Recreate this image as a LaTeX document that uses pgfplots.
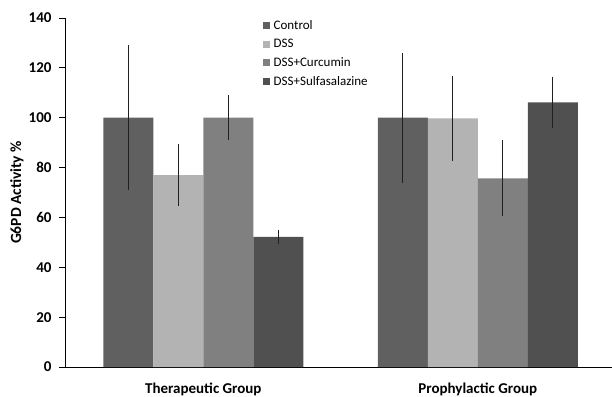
\documentclass[border=0pt]{standalone}
\usepackage{pgfplots}
\pgfplotsset{compat=1.18}
\usepackage{fontspec}
\setmainfont{Carlito}
\definecolor{cControl}{HTML}{606060}
\definecolor{cDSS}{HTML}{B3B3B3}
\definecolor{cCur}{HTML}{808080}
\definecolor{cSul}{HTML}{505050}
\definecolor{errc}{HTML}{202020}
\begin{document}
\begin{tikzpicture}
\useasboundingbox (-65pt,-29pt) rectangle (547pt,367pt);
\begin{axis}[
  at={(0,0)}, anchor=south west,
  scale only axis, width=547pt, height=349pt,
  xmin=-0.504, xmax=1.489, ymin=0, ymax=140,
  ybar, bar width=50pt,
  axis x line*=bottom, axis y line*=left,
  axis line style={line width=0.9pt, black},
  xtick={0,1}, xticklabels={Therapeutic Group, Prophylactic Group},
  xtick style={draw=none},
  ytick={0,20,...,140},
  ytick style={line width=0.9pt, black},
  tick align=outside, major tick length=6pt,
  yticklabel style={font=\fontsize{15}{18}\selectfont\bfseries, xshift=-4pt},
  xticklabel style={font=\fontsize{15}{18}\selectfont\bfseries, anchor=base, yshift=-20pt},
  /pgf/number format/assume math mode=true,
  ylabel={G6PD Activity \%},
  ylabel style={font=\fontsize{15.5}{18}\selectfont\bfseries, at={(axis description cs:-0.088,0.5)}, anchor=center, rotate=0},
  legend style={draw=none, fill=none, at={(axis description cs:0.361,1.0)}, anchor=north west,
    font=\fontsize{13}{15}\selectfont, row sep=4.5pt, inner sep=0pt},
  legend cell align=left,
  legend image code/.code={\fill[#1] (0pt,-3.5pt) rectangle (7pt,3.5pt); \path (9pt,0pt);},
  error bars/y dir=both, error bars/y explicit,
  error bars/error mark=none,
  error bars/error bar style={line width=1pt, errc},
  clip=false,
]
\addplot[fill=cControl, draw=none, bar shift=-75pt] coordinates {(0,100) +- (0,29) (1,100) +- (0,26)};
\addplot[fill=cDSS, draw=none, bar shift=-25pt] coordinates {(0,77) +- (0,12.3) (1,99.7) +- (0,17)};
\addplot[fill=cCur, draw=none, bar shift=25pt] coordinates {(0,100) +- (0,9) (1,75.7) +- (0,15.3)};
\addplot[fill=cSul, draw=none, bar shift=75pt] coordinates {(0,52.2) +- (0,2.8) (1,106.2) +- (0,10.3)};
\legend{Control, DSS, DSS+Curcumin, DSS+Sulfasalazine}
\end{axis}
\end{tikzpicture}
\end{document}
